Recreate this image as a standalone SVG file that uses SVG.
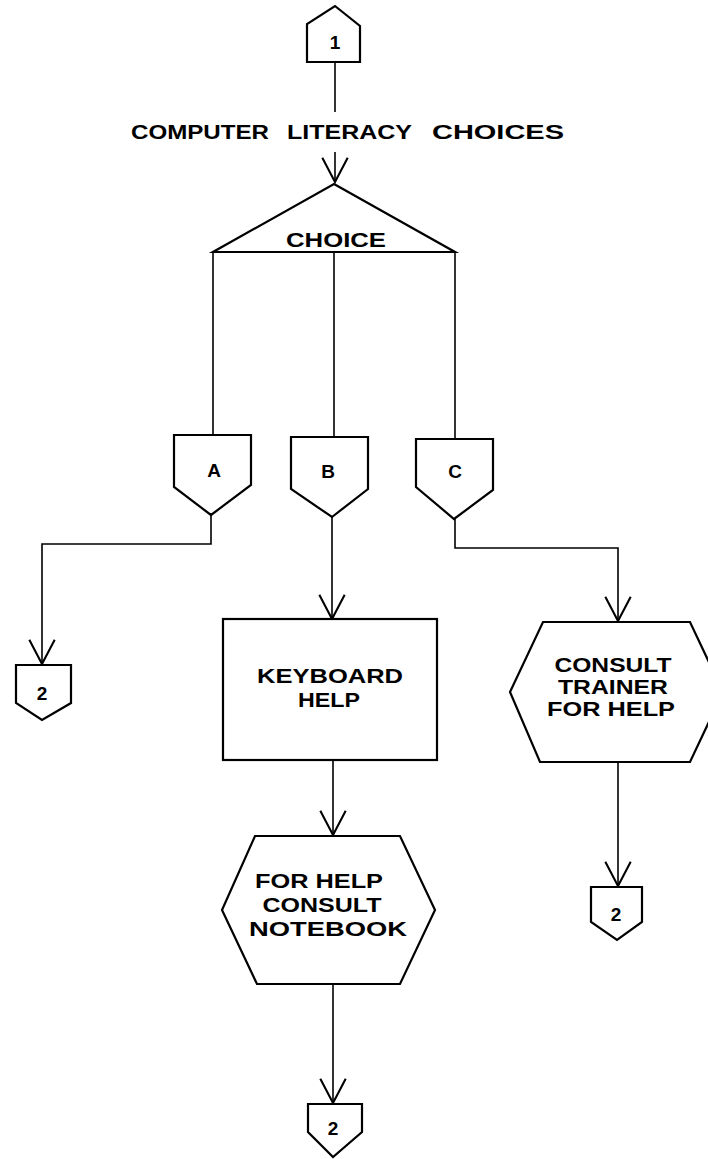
<svg xmlns="http://www.w3.org/2000/svg" width="708" height="1159" viewBox="0 0 708 1159">
<defs>
<style>
.shape{fill:#fff;stroke:#000;stroke-width:2.2;stroke-linejoin:miter}
.conn{fill:none;stroke:#000;stroke-width:1.6}
.t{font-family:"Liberation Sans",Arial,sans-serif;font-weight:bold;fill:#000;text-anchor:middle}
.big{font-size:21px}
.mid{font-size:20px}
.sm{font-size:19px}
</style>
<marker id="arr" markerUnits="userSpaceOnUse" markerWidth="30" markerHeight="30" refX="0" refY="0" viewBox="-22 -13 24 26" orient="auto" overflow="visible">
<path d="M-21,-11 L0,0 L-21,11" fill="none" stroke="#000" stroke-width="1.8"/>
</marker>
</defs>
<rect width="708" height="1159" fill="#fff"/>

<g id="connectors">
<line class="conn" x1="335" y1="62" x2="335" y2="112"/>
<line class="conn" x1="335" y1="152" x2="335" y2="182" marker-end="url(#arr)"/>
<line class="conn" x1="213" y1="252" x2="213" y2="435"/>
<line class="conn" x1="334" y1="252" x2="334" y2="437"/>
<line class="conn" x1="455" y1="252" x2="455" y2="439"/>
<polyline class="conn" points="211,515 211,544 42,544 42,664" marker-end="url(#arr)"/>
<line class="conn" x1="332" y1="517" x2="332" y2="619" marker-end="url(#arr)"/>
<polyline class="conn" points="455,519 455,548 618,548 618,621" marker-end="url(#arr)"/>
<line class="conn" x1="333" y1="760" x2="333" y2="835" marker-end="url(#arr)"/>
<line class="conn" x1="618" y1="762" x2="618" y2="886" marker-end="url(#arr)"/>
<line class="conn" x1="333" y1="984" x2="333" y2="1103" marker-end="url(#arr)"/>
</g>

<g id="node-1">
<polygon class="shape" points="335,6 360,26 360,62 307,62 307,24"/>
<text class="t sm" x="335" y="49">1</text>
</g>

<g id="label-title">
<text class="t big" x="200" y="139" textLength="138" lengthAdjust="spacingAndGlyphs">COMPUTER</text>
<text class="t big" x="349.5" y="139" textLength="125" lengthAdjust="spacingAndGlyphs">LITERACY</text>
<text class="t big" x="498" y="139" textLength="132" lengthAdjust="spacingAndGlyphs">CHOICES</text>
</g>

<g id="node-choice">
<polygon class="shape" points="334,184 455,252 213,252"/>
<text class="t big" x="336" y="247" textLength="100" lengthAdjust="spacingAndGlyphs">CHOICE</text>
</g>

<g id="node-A">
<polygon class="shape" points="174,435 251,435 251,485 211,515 174,487"/>
<text class="t sm" x="214" y="477">A</text>
</g>
<g id="node-B">
<polygon class="shape" points="291,437 368,437 368,489 332,517 291,489"/>
<text class="t sm" x="328" y="478">B</text>
</g>
<g id="node-C">
<polygon class="shape" points="416,439 493,439 493,490 454,519 416,487"/>
<text class="t sm" x="455" y="478">C</text>
</g>

<g id="node-2-left">
<polygon class="shape" points="16,665 71,665 71,703 42,720 16,703"/>
<text class="t sm" x="42" y="700">2</text>
</g>

<g id="node-keyboard">
<rect class="shape" x="223" y="619" width="214" height="141"/>
<text class="t mid" x="330" y="683" textLength="146" lengthAdjust="spacingAndGlyphs">KEYBOARD</text>
<text class="t mid" x="329" y="707" textLength="62" lengthAdjust="spacingAndGlyphs">HELP</text>
</g>

<g id="node-trainer">
<polygon class="shape" points="543,622 690,622 723,692 690,762 540,762 510,692"/>
<text class="t mid" x="613" y="672" textLength="117" lengthAdjust="spacingAndGlyphs">CONSULT</text>
<text class="t mid" x="613" y="694" textLength="110" lengthAdjust="spacingAndGlyphs">TRAINER</text>
<text class="t mid" x="611" y="716" textLength="128" lengthAdjust="spacingAndGlyphs">FOR HELP</text>
</g>

<g id="node-2-right">
<polygon class="shape" points="591,887 642,887 642,922 617,940 591,922"/>
<text class="t sm" x="616" y="921">2</text>
</g>

<g id="node-notebook">
<polygon class="shape" points="255,836 400,836 435,910 400,984 257,984 222,910"/>
<text class="t mid" x="319" y="888" textLength="128" lengthAdjust="spacingAndGlyphs">FOR HELP</text>
<text class="t mid" x="322" y="912" textLength="119" lengthAdjust="spacingAndGlyphs">CONSULT</text>
<text class="t mid" x="328" y="936" textLength="158" lengthAdjust="spacingAndGlyphs">NOTEBOOK</text>
</g>

<g id="node-2-bottom">
<polygon class="shape" points="308,1104 362,1104 362,1132 333,1157 308,1132"/>
<text class="t sm" x="333" y="1135">2</text>
</g>
</svg>
